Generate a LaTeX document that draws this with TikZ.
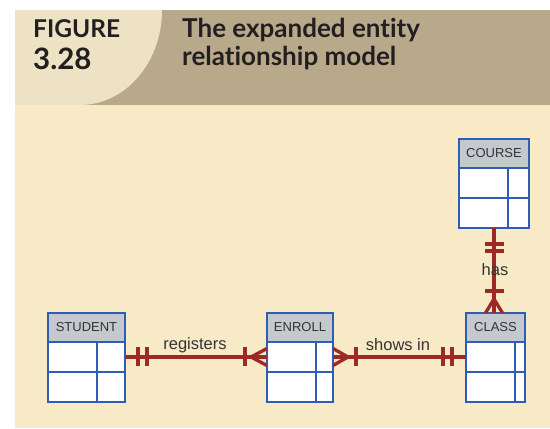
\documentclass[tikz,border=0pt]{standalone}
\usepackage{fontspec}
\setsansfont{Liberation Sans}
\newfontfamily\headfont{Lato}[Ligatures=NoCommon]
\usetikzlibrary{positioning,calc,decorations.markings}

\definecolor{cream}{HTML}{F8EAC6}
\definecolor{tan}{HTML}{B9A98B}
\definecolor{paper}{HTML}{EEE2C4}
\definecolor{hdgray}{HTML}{C4C9CE}
\definecolor{entblue}{HTML}{2D5DB5}
\definecolor{relred}{HTML}{9E2824}
\definecolor{ink}{HTML}{231F20}
\definecolor{txtgray}{HTML}{333333}

\tikzset{
    ent/.style={draw=entblue, line width=1.6pt, outer sep=0pt, inner sep=0pt},
    hd/.style={ent, fill=hdgray, minimum height=29pt, text=txtgray,
        font=\sffamily\fontsize{13}{13}\selectfont},
    row/.style={ent, fill=white, minimum height=30pt},
    rel/.style={draw=relred, line width=3.3pt},
    lbl/.style={text=txtgray, font=\sffamily\fontsize{16.5}{17}\selectfont, inner sep=0pt},
    % cardinality marks along a connector
    bar at/.style={postaction={decorate, decoration={markings,
        mark=at position #1 with {\draw[rel] (0,-9.5pt) -- (0,9.5pt);}}}},
    crow end/.style={postaction={decorate, decoration={markings,
        mark=at position -#1 with {\draw[rel] (0,0) -- (#1,-8.5pt) (0,0) -- (#1,8.5pt);}}}},
    crow start/.style={postaction={decorate, decoration={markings,
        mark=at position #1 with {\draw[rel] (0,0) -- (-#1,-8.5pt) (0,0) -- (-#1,8.5pt);}}}}
}

\begin{document}
\begin{tikzpicture}[x=1pt, y=1pt]
    \useasboundingbox (0,0) rectangle (550,429);
    \fill[white] (0,0) rectangle (550,429);

    % header band
    \fill[cream] (15,1) rectangle (550,324);
    \fill[tan] (15,324) rectangle (550,419);
    \fill[paper] (15,419) -- (162,419) arc[start angle=0, end angle=-90, x radius=82, y radius=95] -- (15,324) -- cycle;

    \node[anchor=base west, inner sep=0pt, text=ink, font=\headfont\bfseries\fontsize{24.5}{24}\selectfont] (fig) at (33,391) {FIGURE};
    \node[anchor=base west, inner sep=0pt, text=ink, font=\headfont\bfseries\fontsize{29.5}{29}\selectfont] (fignum) at (33,359) {3.28};
    \node[anchor=base west, inner sep=0pt, text=ink, font=\headfont\bfseries\fontsize{26}{26}\selectfont] (title1) at (182,391) {The expanded entity};
    \node[anchor=base west, inner sep=0pt, text=ink, font=\headfont\bfseries\fontsize{26}{26}\selectfont] (title2) at (182,363) {relationship model};

    % entities
    \foreach \n/\t/\x/\y/\w/\d in {student/STUDENT/86.5/101.5/77/28,
                                  enroll/ENROLL/300/101.5/66/17,
                                  class/CLASS/495.5/101.5/59/10,
                                  course/COURSE/494/275.5/70/21} {
        \node[hd, minimum width=\w pt] (\n) at (\x,\y) {\t};
        \node[row, minimum width=\w pt, below=0pt of \n] (\n r1) {};
        \node[row, minimum width=\w pt, below=0pt of \n r1] (\n r2) {};
        \draw[ent] ([xshift=-\d pt]\n r1.north east) -- ([xshift=-\d pt]\n r2.south east);
    }

    % relationships
    \draw[rel, bar at=13pt, bar at=22pt, bar at=-22pt, crow end=16pt] (studentr1) -- (enrollr1);
    \draw[rel, crow start=15pt, bar at=23pt, bar at=-23pt, bar at=-14pt] (enrollr1) -- (classr1);
    \draw[rel, bar at=16pt, bar at=23pt, bar at=-22pt, crow end=14pt] (courser2.south) -- (courser2.south |- class.north);

    \node[lbl] (registers) at (195,84) {registers};
    \node[lbl] (showsin) at (398,84) {shows in};
    \node[lbl] (has) at (495,159) {has};
\end{tikzpicture}
\end{document}
